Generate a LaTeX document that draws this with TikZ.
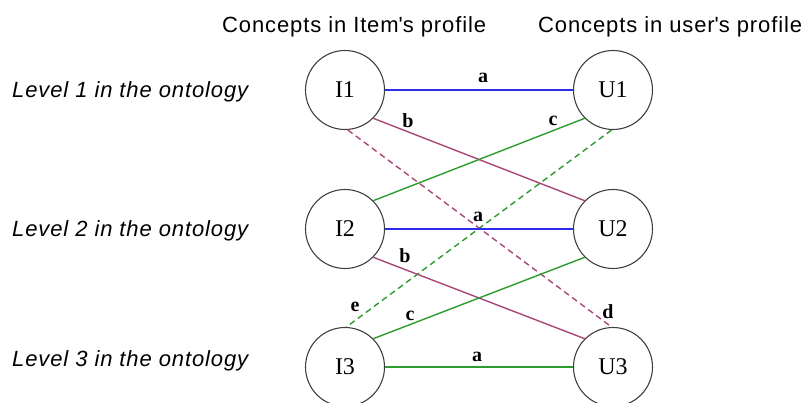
\documentclass[tikz,border=0pt]{standalone}
\usepackage{fontspec}
\setmainfont{Liberation Serif}
\setsansfont{Liberation Sans}
\definecolor{lnblue}{RGB}{45,45,235}
\definecolor{lnpurple}{RGB}{170,70,120}
\definecolor{lngreen}{RGB}{45,155,45}
\begin{document}
\begin{tikzpicture}[x=1pt,y=-1pt,
    concept/.style={circle,draw=black!75,line width=1.1pt,minimum size=79pt,inner sep=0pt,
      font=\fontsize{24}{24}\selectfont},
    lbl/.style={font=\fontsize{20}{20}\selectfont\bfseries,inner sep=0pt},
    head/.style={font=\sffamily\fontsize{22}{22}\selectfont\addfontfeature{LetterSpace=4},
      inner sep=0pt,anchor=base west},
    level/.style={font=\sffamily\itshape\fontsize{22}{22}\selectfont\addfontfeature{LetterSpace=4},
      inner sep=0pt,anchor=base west},
    link/.style={line width=1.4pt},
    dashlink/.style={line width=1.4pt,dash pattern=on 6pt off 4pt}]
          \useasboundingbox (0,0) rectangle (801,403);
          \node[head] (hitem) at (222,33) {Concepts in Item\textquotesingle s profile};
          \node[head] (huser) at (538,33) {Concepts in user\textquotesingle s profile};
          \node[level] (lev1) at (12,98) {Level 1 in the ontology};
          \node[level] (lev2) at (12,237) {Level 2 in the ontology};
          \node[level] (lev3) at (12,367) {Level 3 in the ontology};

          \node[concept] (i1) at (345,90) {I1};
          \node[concept] (u1) at (613,90) {U1};
          \node[concept] (i2) at (345,229) {I2};
          \node[concept] (u2) at (613,229) {U2};
          \node[concept] (i3) at (345,367) {I3};
          \node[concept] (u3) at (613,367) {U3};

          \draw[dashlink,lnpurple] (i1.-86) -- (u3.92);
          \draw[dashlink,lngreen] (u1.-92) -- (i3.88);
          \draw[link,lnblue] (i1) -- (u1);
          \draw[link,lnpurple] (i1.-45) -- (u2.135);
          \draw[link,lngreen] (u1.-135) -- (i2.45);
          \draw[link,lnblue] (i2) -- (u2);
          \draw[link,lnpurple] (i2.-45) -- (u3.135);
          \draw[link,lngreen] (u2.-135) -- (i3.45);
          \draw[link,lngreen] (i3) -- (u3);

          \node[lbl] (a1) at (483,78) {a};
          \node[lbl] (b1) at (408,121) {b};
          \node[lbl] (c1) at (553,121) {c};
          \node[lbl] (a2) at (478,217) {a};
          \node[lbl] (b2) at (405,256) {b};
          \node[lbl] (e3) at (355,307) {e};
          \node[lbl] (c3) at (410,316) {c};
          \node[lbl] (d3) at (608,312) {d};
          \node[lbl] (a3) at (477,357) {a};
        \end{tikzpicture}
\end{document}
